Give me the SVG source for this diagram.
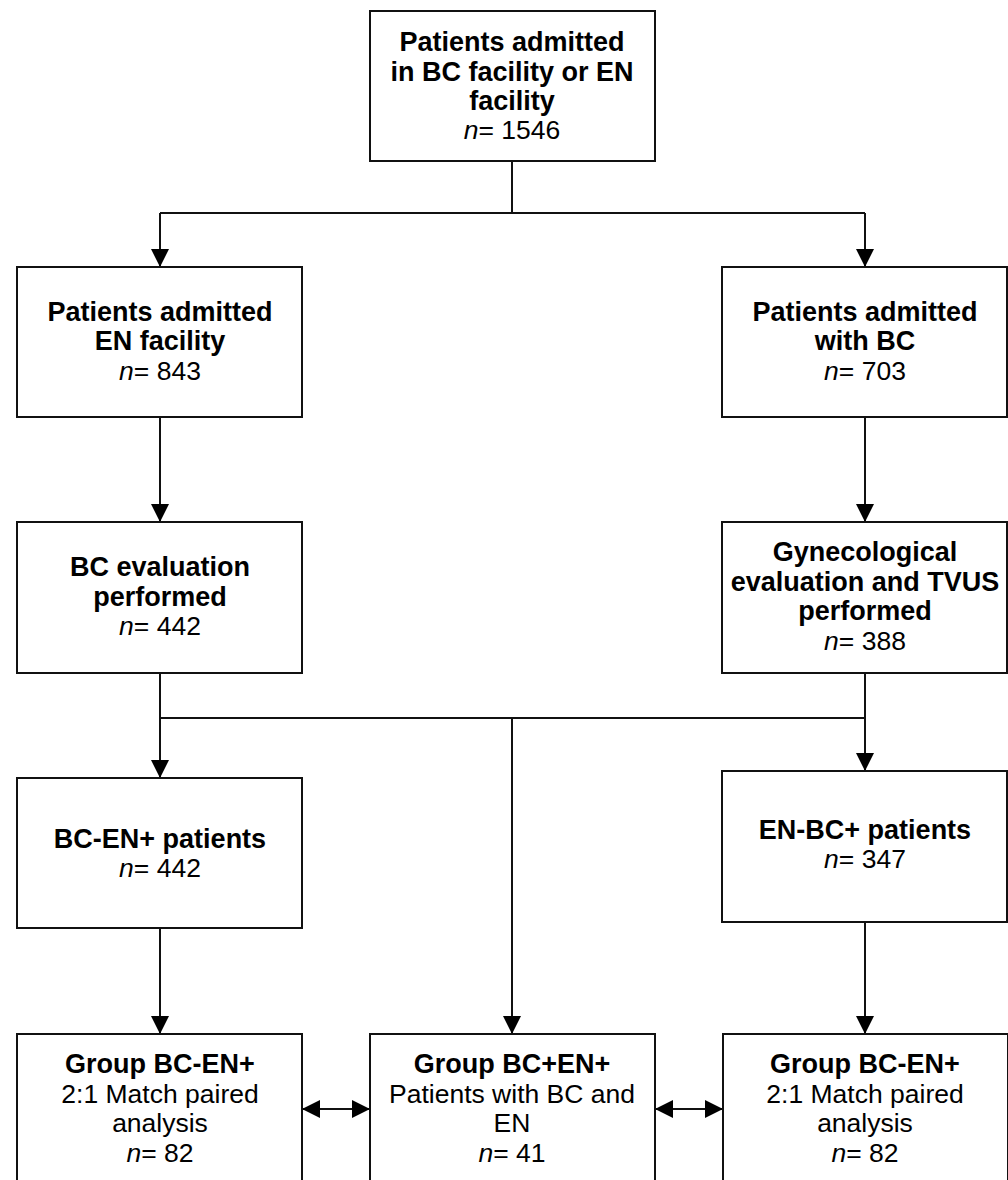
<svg xmlns="http://www.w3.org/2000/svg" width="1008" height="1180" viewBox="0 0 1008 1180">
<style>
.box{fill:#fff;stroke:#111;stroke-width:2}
.c{fill:none;stroke:#111;stroke-width:2}
text{font-family:"Liberation Sans",Arial,sans-serif;font-size:26.5px;fill:#000;text-anchor:middle}
.b{font-weight:bold;font-size:27px}
.i{font-style:italic}
</style>
<defs>
<marker id="ah" markerUnits="userSpaceOnUse" markerWidth="18" markerHeight="18" refX="17" refY="8.5" orient="auto-start-reverse" viewBox="0 0 17 17">
<path d="M0,0 L17,8.5 L0,17 z" fill="#000"/>
</marker>
</defs>
<rect width="1008" height="1180" fill="#fff"/>
<g id="connectors">
<path class="c" d="M512,161 V213 M160,213 H865"/>
<line class="c" x1="160" y1="213" x2="160" y2="267" marker-end="url(#ah)"/>
<line class="c" x1="865" y1="213" x2="865" y2="267" marker-end="url(#ah)"/>
<line class="c" x1="160" y1="417" x2="160" y2="522" marker-end="url(#ah)"/>
<line class="c" x1="865" y1="417" x2="865" y2="522" marker-end="url(#ah)"/>
<path class="c" d="M160,718 H865"/>
<line class="c" x1="160" y1="673" x2="160" y2="778" marker-end="url(#ah)"/>
<line class="c" x1="865" y1="673" x2="865" y2="771" marker-end="url(#ah)"/>
<line class="c" x1="512" y1="718" x2="512" y2="1034" marker-end="url(#ah)"/>
<line class="c" x1="160" y1="928" x2="160" y2="1034" marker-end="url(#ah)"/>
<line class="c" x1="865" y1="922" x2="865" y2="1034" marker-end="url(#ah)"/>
<line class="c" x1="302" y1="1109" x2="370" y2="1109" marker-start="url(#ah)" marker-end="url(#ah)"/>
<line class="c" x1="655" y1="1109" x2="723" y2="1109" marker-start="url(#ah)" marker-end="url(#ah)"/>
</g>
<g id="n-top">
<rect class="box" x="370" y="11" width="285" height="150"/>
<text x="512" y="51" class="b">Patients admitted</text>
<text x="512" y="81" class="b">in BC facility or EN</text>
<text x="512" y="110" class="b">facility</text>
<text x="512" y="139"><tspan class="i">n</tspan>= 1546</text>
</g>
<g id="n-en">
<rect class="box" x="17" y="267" width="285" height="150"/>
<text x="160" y="321" class="b">Patients admitted</text>
<text x="160" y="350" class="b">EN facility</text>
<text x="160" y="380"><tspan class="i">n</tspan>= 843</text>
</g>
<g id="n-bc">
<rect class="box" x="722" y="267" width="285" height="150"/>
<text x="865" y="321" class="b">Patients admitted</text>
<text x="865" y="350" class="b">with BC</text>
<text x="865" y="380"><tspan class="i">n</tspan>= 703</text>
</g>
<g id="n-bceval">
<rect class="box" x="17" y="522" width="285" height="151"/>
<text x="160" y="576" class="b">BC evaluation</text>
<text x="160" y="606" class="b">performed</text>
<text x="160" y="635"><tspan class="i">n</tspan>= 442</text>
</g>
<g id="n-gyn">
<rect class="box" x="722" y="522" width="285" height="151"/>
<text x="865" y="561" class="b">Gynecological</text>
<text x="865" y="591" class="b">evaluation and TVUS</text>
<text x="865" y="620" class="b">performed</text>
<text x="865" y="650"><tspan class="i">n</tspan>= 388</text>
</g>
<g id="n-bcen">
<rect class="box" x="17" y="778" width="285" height="150"/>
<text x="160" y="848" class="b">BC-EN+ patients</text>
<text x="160" y="877"><tspan class="i">n</tspan>= 442</text>
</g>
<g id="n-enbc">
<rect class="box" x="722" y="771" width="285" height="151"/>
<text x="865" y="839" class="b">EN-BC+ patients</text>
<text x="865" y="868"><tspan class="i">n</tspan>= 347</text>
</g>
<g id="n-g1">
<rect class="box" x="17" y="1034" width="285" height="160"/>
<text x="160" y="1073" class="b">Group BC-EN+</text>
<text x="160" y="1103">2:1 Match paired</text>
<text x="160" y="1132">analysis</text>
<text x="160" y="1162"><tspan class="i">n</tspan>= 82</text>
</g>
<g id="n-g2">
<rect class="box" x="370" y="1034" width="285" height="160"/>
<text x="512" y="1073" class="b">Group BC+EN+</text>
<text x="512" y="1103">Patients with BC and</text>
<text x="512" y="1132">EN</text>
<text x="512" y="1162"><tspan class="i">n</tspan>= 41</text>
</g>
<g id="n-g3">
<rect class="box" x="723" y="1034" width="285" height="160"/>
<text x="865" y="1073" class="b">Group BC-EN+</text>
<text x="865" y="1103">2:1 Match paired</text>
<text x="865" y="1132">analysis</text>
<text x="865" y="1162"><tspan class="i">n</tspan>= 82</text>
</g>
</svg>
